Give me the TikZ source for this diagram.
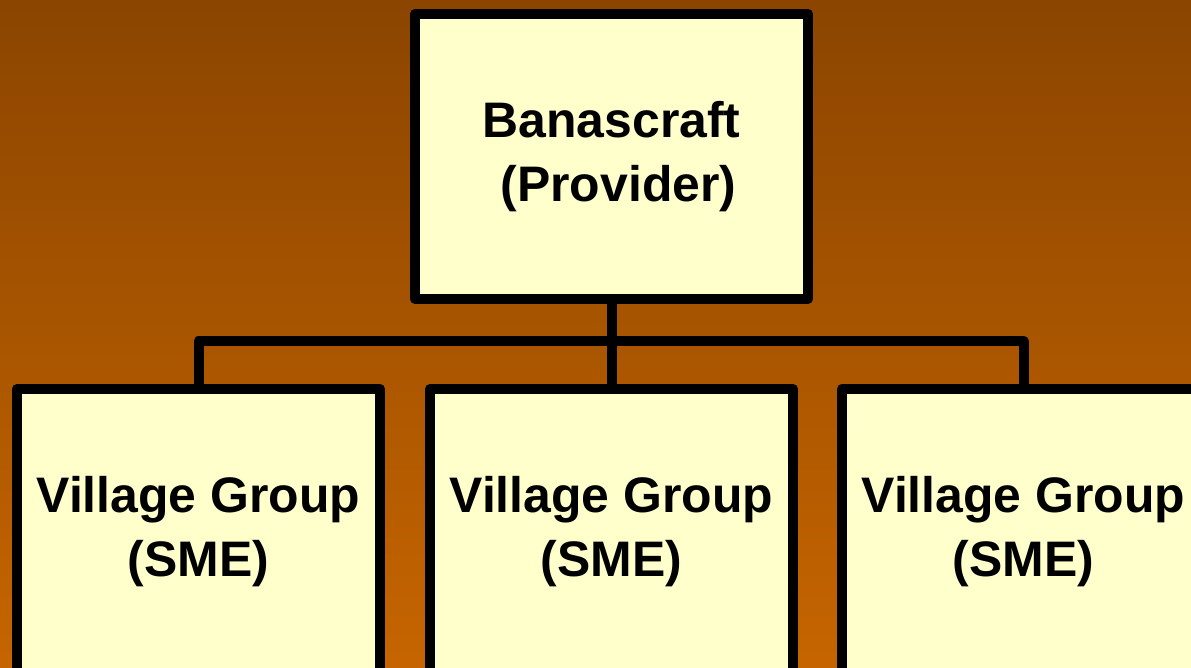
\documentclass[tikz,border=0pt]{standalone}
\usepackage{fontspec}
\setmainfont{Liberation Sans}
\usetikzlibrary{calc}
\definecolor{BgTop}{RGB}{139,69,0}
\definecolor{BgBot}{RGB}{198,101,0}
\definecolor{BoxY}{RGB}{255,255,204}
\begin{document}
\begin{tikzpicture}[
  unit/.style={draw=black, line width=1mm, fill=BoxY, line join=round,
               outer sep=0pt, inner sep=0pt, minimum width=3.63cm,
               minimum height=2.85cm, align=center,
               font=\fontsize{14.2}{18}\selectfont\bfseries},
  link/.style={draw=black, line width=1mm, line join=round}
]
\useasboundingbox (0,0) rectangle (11.91,6.68);
\clip (0,0) rectangle (11.91,6.68);
\shade[top color=BgTop, bottom color=BgBot] (0,0) rectangle (11.91,6.68);

\node[unit, minimum width=3.93cm] (prov) at (6.115,5.115) {Banascraft\\\hspace*{0.28em}(Provider)};
\node[unit] (vgA) at (1.985,1.365) {Village Group\\(SME)};
\node[unit] (vgB) at (6.115,1.365) {Village Group\\(SME)};
\node[unit] (vgC) at (10.235,1.365) {Village Group\\(SME)};

\draw[link] (prov.south) -- ++(0,-0.42) coordinate (bus);
\draw[link] (vgA.north) |- (bus) -| (vgC.north);
\draw[link] (bus) -- (vgB.north);
\end{tikzpicture}
\end{document}
